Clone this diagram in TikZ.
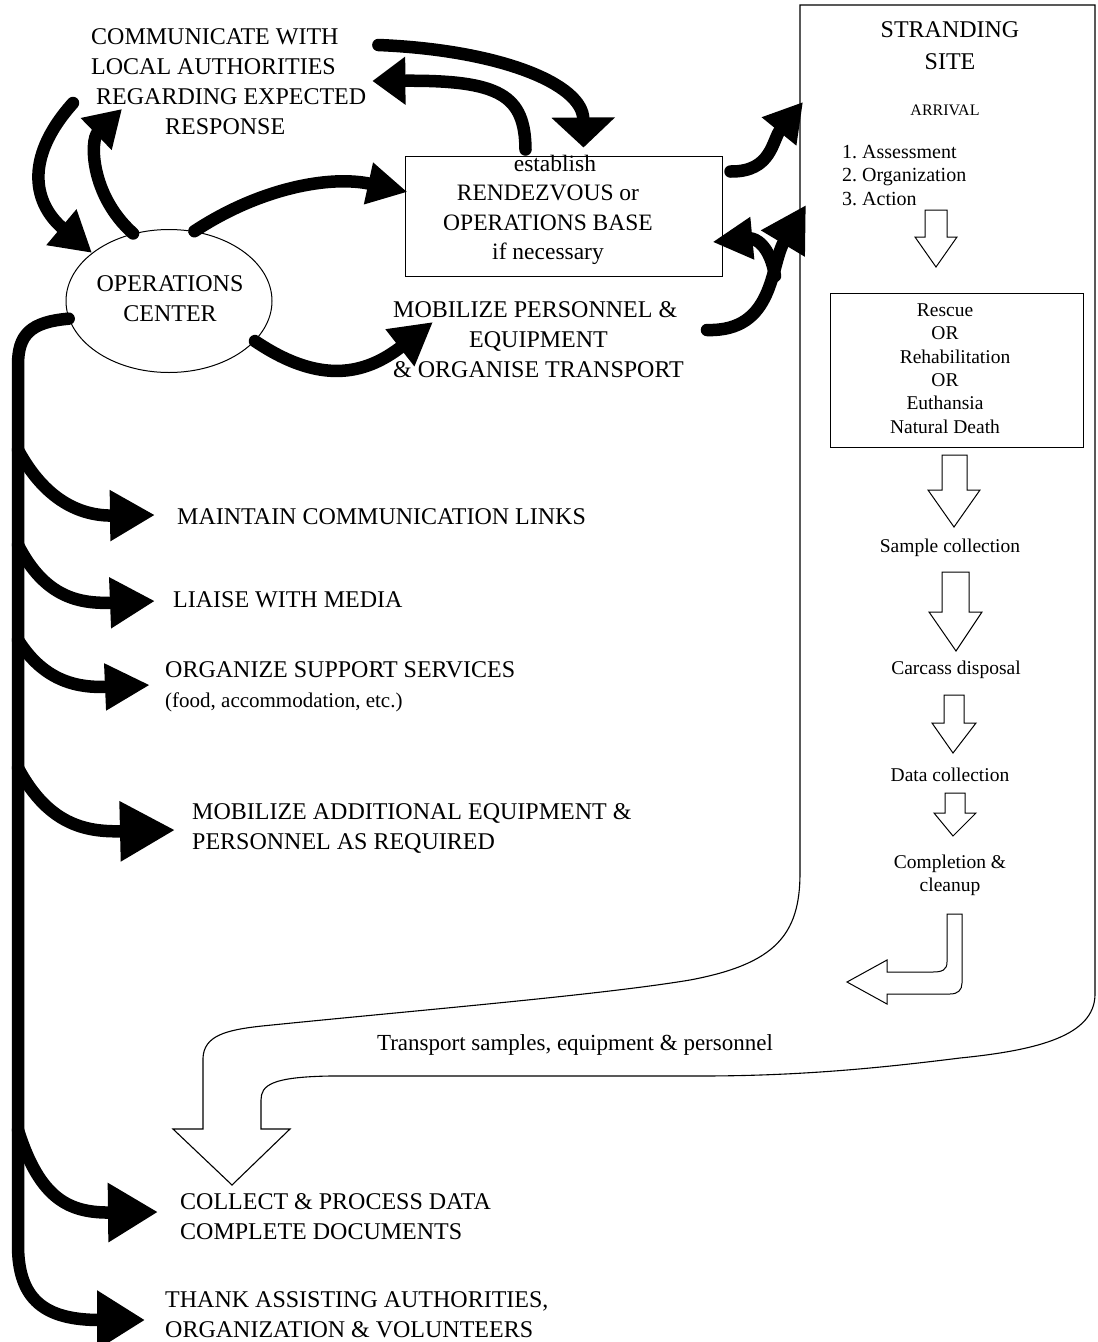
\documentclass[tikz,border=0pt]{standalone}
\usepackage{fontspec}
\setmainfont{Liberation Serif}
\usetikzlibrary{arrows.meta,shapes.geometric,calc}
\frenchspacing

\begin{document}
\begin{tikzpicture}[x=1pt,y=-1pt,
  bigtxt/.style={inner sep=0pt, font=\fontsize{24}{30}\selectfont},
  smalltxt/.style={inner sep=0pt, font=\fontsize{19.5}{23.4}\selectfont},
  fat/.style 2 args={line width=12.5pt, line cap=round, -{Triangle[length=#1pt,width=#2pt]}},
  outline/.style={line width=1.1pt, line join=miter},
  hollow/.style={line width=1pt, line join=miter, fill=white},
  thinbox/.style={draw, line width=1pt, inner sep=0pt},
]
\useasboundingbox (0,0) rectangle (1098,1342);
\fill[white] (0,0) rectangle (1098,1342);

% ---------- stranding site frame with the return arrow ----------
\draw[outline] (800,5) -- (1095,5) -- (1095,995)
  .. controls (1094,1035) and (1040,1050) .. (960,1058)
  .. controls (880,1068) and (800,1076) .. (700,1076) -- (330,1076)
  .. controls (272,1077) and (261,1085) .. (261,1100) -- (261,1129)
  -- (290,1129) -- (232,1185) -- (173,1129) -- (203,1129) -- (203,1058)
  .. controls (204,1036) and (225,1030) .. (262,1026)
  .. controls (420,1010) and (600,995) .. (690,980)
  .. controls (775,964) and (800,935) .. (800,873) -- cycle;
\coordinate (siteA) at (803,102);
\coordinate (siteB) at (806,205);

% ---------- text nodes ----------
\node[bigtxt, align=left, anchor=west] (comm) at (91,82)
  {COMMUNICATE WITH\\LOCAL AUTHORITIES\\\hspace*{5pt}REGARDING EXPECTED\\\hspace*{74pt}RESPONSE};
\node[thinbox, ellipse, minimum width=206pt, minimum height=143pt] (oc) at (169,301) {};
\node[bigtxt, align=center] (oclbl) at (170,299) {OPERATIONS\\CENTER};
\node[thinbox, minimum width=317pt, minimum height=120pt] (rdv) at (563.5,216) {};
\node[inner sep=0pt, font=\fontsize{23.5}{29.5}\selectfont, align=center] (rdvlbl) at (548,210)
  {\hspace*{14pt}establish\\RENDEZVOUS or\hspace*{16pt}\\OPERATIONS BASE\\if necessary};
\node[bigtxt, align=left, anchor=west] (mob) at (393,340)
  {MOBILIZE PERSONNEL \&\\\hspace*{76pt}EQUIPMENT\\\& ORGANISE TRANSPORT};

\node[bigtxt, align=center, font=\fontsize{24}{32}\selectfont] (site) at (950,46) {STRANDING\\SITE};
\node[inner sep=0pt, font=\fontsize{16}{19}\selectfont] (arrival) at (945,110) {ARRIVAL};
\node[inner sep=0pt, font=\fontsize{20}{23.5}\selectfont, align=left, anchor=west] (steps) at (842,175.5)
  {1. Assessment\\2. Organization\\3. Action};
\node[thinbox, minimum width=253pt, minimum height=154pt] (rescue) at (956.5,370) {};
\node[smalltxt, align=center] (rescuelbl) at (945,368.5)
  {Rescue\\OR\\\hspace*{20pt}Rehabilitation\\OR\\Euthansia\hspace*{14pt}\\Natural Death};
\node[smalltxt] (sample) at (950,548) {Sample collection};
\node[smalltxt] (carcass) at (956,670) {Carcass disposal};
\node[smalltxt] (datacol) at (950,775) {Data collection};
\node[smalltxt, align=center] (complete) at (950,875) {Completion \&\\cleanup};
\node[inner sep=0pt, font=\fontsize{23}{27}\selectfont] (transport) at (575,1045)
  {Transport samples, equipment \& personnel};

\node[bigtxt, anchor=west] (maintain) at (177,517) {MAINTAIN COMMUNICATION LINKS};
\node[bigtxt, anchor=west] (liaise) at (173,600) {LIAISE WITH MEDIA};
\node[bigtxt, align=left, anchor=west] (organize) at (165,687)
  {ORGANIZE SUPPORT SERVICES\\{\fontsize{21}{30}\selectfont (food, accommodation, etc.)}};
\node[bigtxt, align=left, anchor=west] (mobadd) at (192,828)
  {MOBILIZE ADDITIONAL EQUIPMENT \&\\PERSONNEL AS REQUIRED};
\node[bigtxt, align=left, anchor=west] (collect) at (180,1217)
  {COLLECT \& PROCESS DATA\\COMPLETE DOCUMENTS};
\node[bigtxt, align=left, anchor=west] (thank) at (165,1315)
  {THANK ASSISTING AUTHORITIES,\\ORGANIZATION \& VOLUNTEERS};

% ---------- hollow step arrows ----------
\draw[hollow] (925,210) -- (947,210) -- (947,237) -- (957,237) -- (936,267) -- (915,237) -- (925,237) -- cycle;
\draw[hollow] (942,455) -- (967,455) -- (967,490) -- (980,490) -- (954,527) -- (928,490) -- (942,490) -- cycle;
\draw[hollow] (942,572) -- (969,572) -- (969,612) -- (982,612) -- (956,651) -- (929,612) -- (942,612) -- cycle;
\draw[hollow] (944,695) -- (964,695) -- (964,723) -- (976,723) -- (953,753) -- (932,723) -- (944,723) -- cycle;
\draw[hollow] (945,793) -- (965,793) -- (965,813) -- (976,813) -- (953,836) -- (934,813) -- (945,813) -- cycle;
\draw[hollow] (947,914) -- (947,962) .. controls (947,970) and (942,972) .. (933,972)
  -- (887,972) -- (887,960) -- (847,982) -- (887,1004) -- (887,994) -- (950,994)
  .. controls (958,994) and (962,990) .. (962,983) -- (962,914) -- cycle;

% ---------- heavy arrows around the operations center ----------
\draw[fat={30}{62}] ($(comm.east)+(12,-37)$) .. controls (500,50) and (583,84) .. ($(rdv.north)+(20,-8)$);
\draw[fat={33}{46}] ($(rdv.north)+(-38,-6)$) .. controls (525,95) and (500,80) .. ($(comm.east)+(6,-1)$);
\draw[fat={36}{42}] (oc.118) .. controls (90,195) and (90,140) .. ($(comm.west)+(31,27)$);
\draw[fat={40}{44}] ($(comm.west)+(-18,21)$) .. controls (22,160) and (35,205) .. (oc.148);
\draw[fat={40}{40}] (oc.70) .. controls (260,188) and (330,175) .. ($(rdv.west)+(3,-24)$);
\draw[fat={42}{44}] (oc.-25) .. controls (320,385) and (365,375) .. ($(mob.west)+(40,-18)$);
\draw[fat={38}{42}] ($(rdv.north east)+(8,16)$) .. controls (772,172) and (772,140) .. (siteA);
\draw[fat={45}{48}] ($(mob.east)+(23,-10)$) .. controls (775,332) and (770,265) .. (siteB);
\coordinate (fork) at (775,276);
\draw[fat={40}{40}] (fork) .. controls (770,245) and (755,238) .. ($(rdv.east)+(-10,26)$);

% ---------- trunk and its branches ----------
\draw[fat={48}{56}] (oc.190) .. controls (30,322) and (18,335) .. (18,365) -- (18,1245)
  .. controls (18,1300) and (45,1320) .. ($(thank.west)+(-20,5)$);
\coordinate (t1) at (18,450);
\coordinate (t2) at (18,545);
\coordinate (t3) at (18,640);
\coordinate (t4) at (18,768);
\coordinate (t5) at (18,1130);
\draw[fat={45}{48}] (t1) .. controls (45,500) and (80,516) .. ($(maintain.west)+(-22,-2)$);
\draw[fat={45}{48}] (t2) .. controls (45,598) and (80,604) .. ($(liaise.west)+(-18,1)$);
\draw[fat={45}{44}] (t3) .. controls (45,683) and (80,688) .. ($(organize.west)+(-15,-2)$);
\draw[fat={55}{57}] (t4) .. controls (50,828) and (90,832) .. ($(mobadd.west)+(-17,2)$);
\draw[fat={50}{56}] (t5) .. controls (40,1200) and (70,1213) .. ($(collect.west)+(-22,-5)$);
\end{tikzpicture}
\end{document}
